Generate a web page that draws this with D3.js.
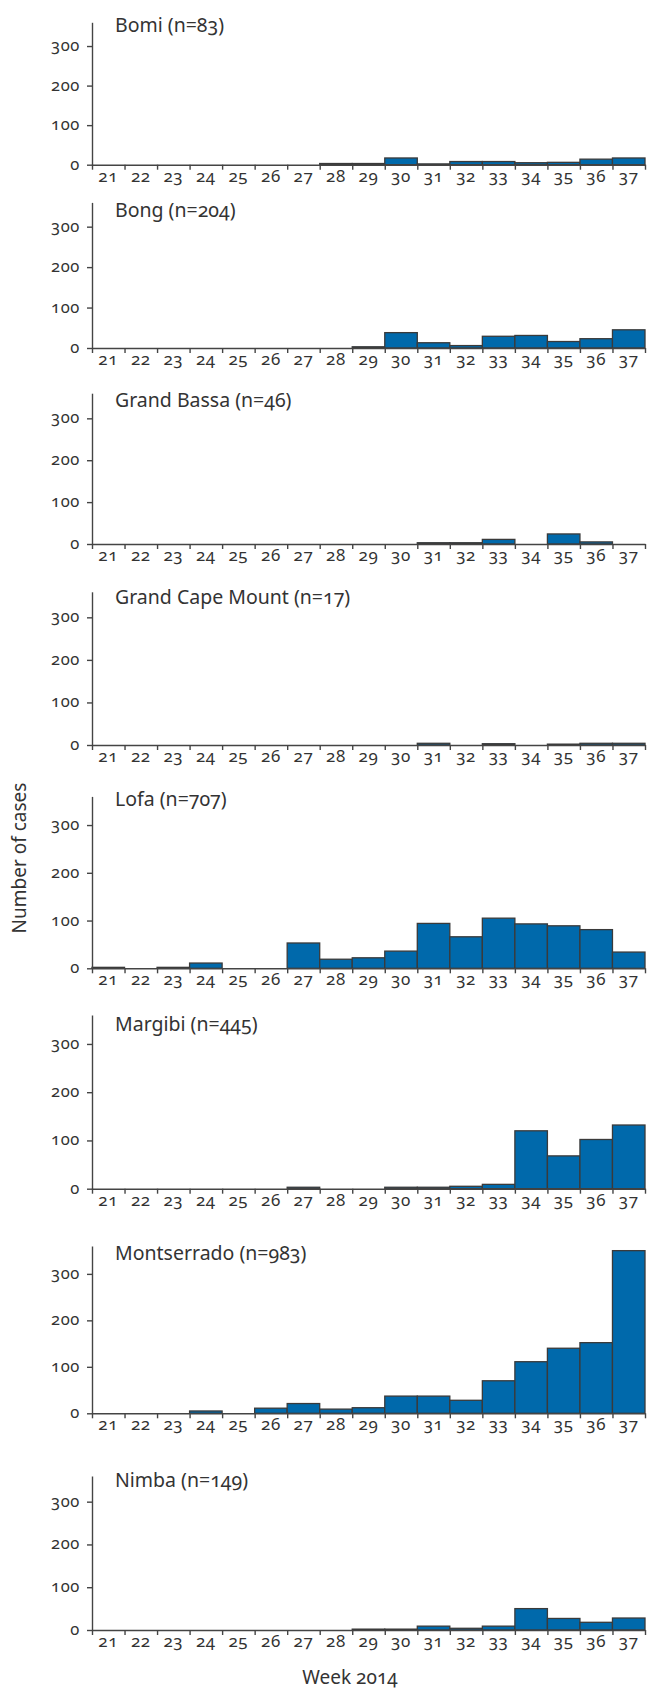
<!DOCTYPE html>
<html>
<head>
<meta charset="utf-8">
<script src="https://cdn.jsdelivr.net/npm/d3@7"></script>
<style>
  body { margin: 0; background: #fff; }
  svg text { font-family: "Noto Sans", sans-serif; fill: #333; font-variant-numeric: oldstyle-nums; }
  .axis path, .axis line { stroke: #444; stroke-width: 1.4; }
  .num { letter-spacing: 0.6px; }
</style>
</head>
<body>
<svg id="chart" width="647" height="1692"></svg>
<script>
// semaines 2014
const weeks = [21, 22, 23, 24, 25, 26, 27, 28, 29, 30, 31, 32, 33, 34, 35, 36, 37];
const yTicks = [0, 100, 200, 300];

const counties = ['Bomi', 'Bong', 'Grand Bassa', 'Grand Cape Mount', 'Lofa', 'Margibi', 'Montserrado', 'Nimba'];
const totals = [83, 204, 46, 17, 707, 445, 983, 149];

// cas par semaine (21 -> 37)
const bomi        = [0, 0, 0, 0, 0, 0, 0, 3, 3, 17, 2, 8, 8, 5, 6, 14, 17];
const bong        = [0, 0, 0, 0, 0, 0, 0, 0, 3, 38, 13, 6, 29, 31, 16, 23, 45];
const grandBassa  = [0, 0, 0, 0, 0, 0, 0, 0, 0, 0, 3, 3, 11, 0, 24, 5, 0];
const grandCape   = [0, 0, 0, 0, 0, 0, 0, 0, 0, 0, 4, 0, 3, 0, 2, 4, 4];
const lofa        = [2, 0, 2, 11, 0, 0, 53, 19, 22, 36, 94, 66, 105, 93, 89, 81, 34];
const margibi     = [0, 0, 0, 0, 0, 0, 3, 0, 0, 3, 3, 5, 9, 120, 68, 102, 132];
const montserrado = [0, 0, 0, 5, 0, 11, 21, 9, 12, 37, 37, 28, 70, 111, 140, 152, 350];
const nimba       = [0, 0, 0, 0, 0, 0, 0, 0, 2, 2, 9, 4, 9, 50, 27, 18, 28];

const series = [bomi, bong, grandBassa, grandCape, lofa, margibi, montserrado, nimba];

// mise en page de chaque panneau
const zeroY  = [164.7, 348, 544, 745, 968.3, 1188.7, 1413.3, 1630];
const topY   = [22.3, 202.4, 393.2, 591.8, 796.4, 1015, 1246, 1476];
const titleY = [32.3, 217.3, 407.3, 604, 806, 1030.7, 1260, 1487.3];

const left = 92, right = 645;
const svg = d3.select('#chart');

const x = d3.scaleLinear().domain([21, 38]).range([left, right]);
const xBand = d3.scaleBand().domain(weeks).range([left, right]);

counties.forEach((name, i) => {
    const y = d3.scaleLinear().domain([0, 360]).range([zeroY[i], topY[i]]);
    const g = svg.append('g');

    const data = weeks.map((w, j) => ({ week: w, value: series[i][j] })).filter(d => d.value > 0);

    g.selectAll('rect')
        .data(data)
        .join('rect')
        .attr('x', d => x(d.week))
        .attr('y', d => y(d.value))
        .attr('width', d => x(d.week + 1) - x(d.week))
        .attr('height', d => y(0) - y(d.value))
        .attr('fill', '#0069ab')
        .attr('stroke', '#3a3a3a')
        .attr('stroke-width', 1.3);

    // axe Y
    const yAxis = g.append('g')
        .attr('class', 'axis')
        .attr('transform', `translate(${left},0)`)
        .call(d3.axisLeft(y).tickValues(yTicks).tickSize(5).tickSizeOuter(0).tickPadding(7));
    yAxis.selectAll('text')
        .attr('class', 'num')
        .attr('font-size', 16.5)
        .attr('dy', '0.27em');

    // axe X (graduations aux limites des semaines)
    g.append('g')
        .attr('class', 'axis')
        .attr('transform', `translate(0,${zeroY[i]})`)
        .call(d3.axisBottom(x).tickValues(d3.range(21, 39)).tickSize(5).tickSizeOuter(0).tickFormat(''));

    g.selectAll('.wk')
        .data(weeks)
        .join('text')
        .attr('class', 'wk num')
        .attr('x', d => xBand(d) + xBand.bandwidth() / 2)
        .attr('y', zeroY[i] + 17)
        .attr('text-anchor', 'middle')
        .attr('font-size', 17)
        .text(d => d);

    g.append('text')
        .attr('x', 115)
        .attr('y', titleY[i])
        .attr('font-size', 19.5)
        .text(`${name} (n=${totals[i]})`);
});

svg.append('text')
    .attr('transform', 'translate(26,858) rotate(-90)')
    .attr('text-anchor', 'middle')
    .attr('font-size', 19)
    .text('Number of cases');

svg.append('text')
    .attr('x', 350)
    .attr('y', 1684)
    .attr('text-anchor', 'middle')
    .attr('font-size', 19)
    .text('Week 2014');
</script>
</body>
</html>
